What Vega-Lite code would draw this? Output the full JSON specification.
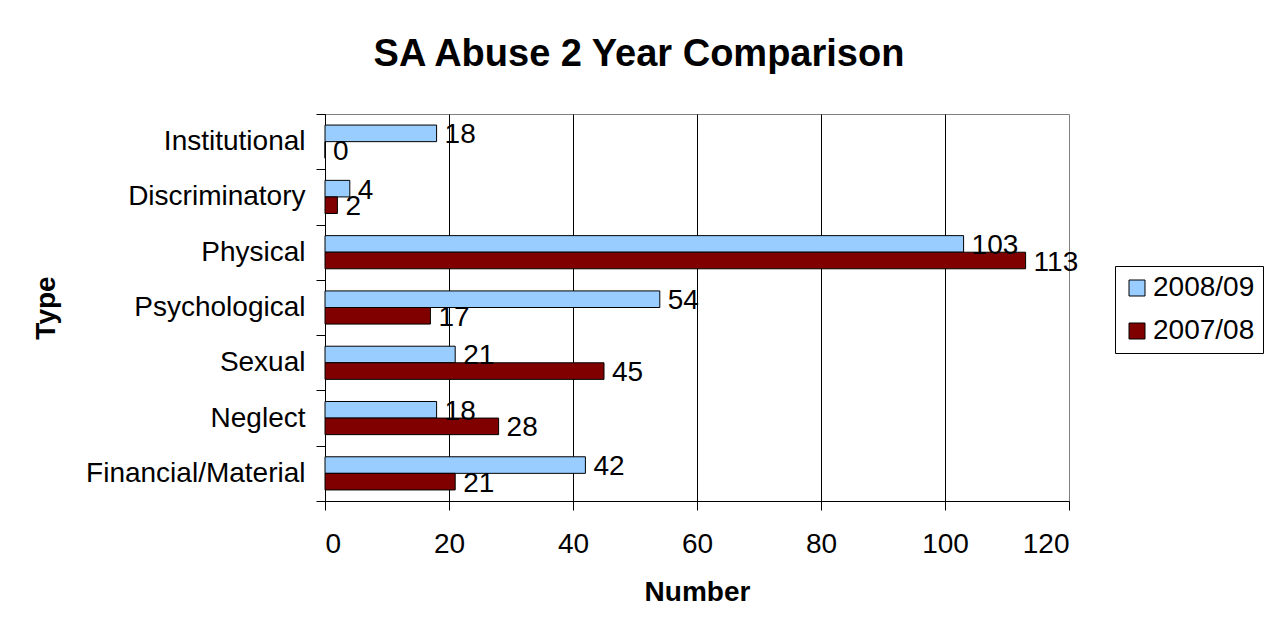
{
  "$schema": "https://vega.github.io/schema/vega-lite/v6.json",
  "autosize": {"type": "none"},
  "width": 744,
  "height": 387,
  "padding": {"left": 325, "top": 114, "right": 209, "bottom": 135},
  "background": "white",
  "title": {
    "text": "SA Abuse 2 Year Comparison",
    "fontSize": 38,
    "fontWeight": "bold",
    "font": "Liberation Sans",
    "color": "black",
    "anchor": "middle",
    "frame": "group",
    "dx": -58,
    "offset": 26
  },
  "data": {
    "values": [
      {"type": "Institutional", "year": "2008/09", "value": 18},
      {"type": "Institutional", "year": "2007/08", "value": 0},
      {"type": "Discriminatory", "year": "2008/09", "value": 4},
      {"type": "Discriminatory", "year": "2007/08", "value": 2},
      {"type": "Physical", "year": "2008/09", "value": 103},
      {"type": "Physical", "year": "2007/08", "value": 113},
      {"type": "Psychological", "year": "2008/09", "value": 54},
      {"type": "Psychological", "year": "2007/08", "value": 17},
      {"type": "Sexual", "year": "2008/09", "value": 21},
      {"type": "Sexual", "year": "2007/08", "value": 45},
      {"type": "Neglect", "year": "2008/09", "value": 18},
      {"type": "Neglect", "year": "2007/08", "value": 28},
      {"type": "Financial/Material", "year": "2008/09", "value": 42},
      {"type": "Financial/Material", "year": "2007/08", "value": 21}
    ]
  },
  "encoding": {
    "y": {
      "field": "type",
      "type": "nominal",
      "sort": ["Institutional", "Discriminatory", "Physical", "Psychological", "Sexual", "Neglect", "Financial/Material"],
      "scale": {"paddingInner": 0, "paddingOuter": 0},
      "axis": {
        "title": "Type",
        "tickBand": "extent",
        "tickSize": 9,
        "labelPadding": 11,
        "labelLimit": 0,
        "labelFontSize": 28,
        "titleFontSize": 28,
        "titleFontWeight": "bold",
        "titlePadding": 65,
        "grid": false
      }
    },
    "yOffset": {
      "field": "year",
      "type": "nominal",
      "sort": ["2008/09", "2007/08"],
      "scale": {"paddingInner": 0, "paddingOuter": 0.667}
    },
    "x": {
      "field": "value",
      "type": "quantitative",
      "scale": {"domain": [0, 120], "nice": false},
      "axis": {
        "title": "Number",
        "values": [0, 20, 40, 60, 80, 100, 120],
        "tickSize": 9,
        "labelPadding": 20,
        "labelFontSize": 28,
        "titleFontSize": 28,
        "titleFontWeight": "bold",
        "titlePadding": 20,
        "grid": true,
        "gridColor": {"condition": {"test": "datum.value === 120", "value": "#808080"}, "value": "black"},
        "gridOpacity": 1,
        "gridWidth": 1
      }
    }
  },
  "layer": [
    {
      "mark": {"type": "bar", "stroke": "black", "strokeWidth": 1},
      "encoding": {
        "color": {
          "field": "year",
          "type": "nominal",
          "scale": {"domain": ["2008/09", "2007/08"], "range": ["#99CCFF", "#800000"]},
          "legend": {
            "title": null,
            "orient": "none",
            "legendX": 790,
            "legendY": 152,
            "symbolType": "square",
            "symbolSize": 256,
            "symbolStrokeColor": "black",
            "symbolStrokeWidth": 1,
            "labelFontSize": 28,
            "labelOffset": 2,
            "rowPadding": 15,
            "padding": 8,
            "strokeColor": "black",
            "fillColor": "white"
          }
        }
      }
    },
    {
      "mark": {"type": "text", "align": "left", "baseline": "middle", "dx": 8, "dy": 2, "fontSize": 28, "color": "black"},
      "encoding": {
        "text": {"field": "value", "type": "quantitative"}
      }
    }
  ],
  "config": {
    "font": "Liberation Sans",
    "view": {"stroke": "#808080", "strokeWidth": 1},
    "axis": {
      "domainColor": "black",
      "tickColor": "black",
      "labelColor": "black",
      "titleColor": "black",
      "labelFont": "Liberation Sans",
      "titleFont": "Liberation Sans"
    },
    "legend": {"labelColor": "black", "labelFont": "Liberation Sans"}
  }
}
